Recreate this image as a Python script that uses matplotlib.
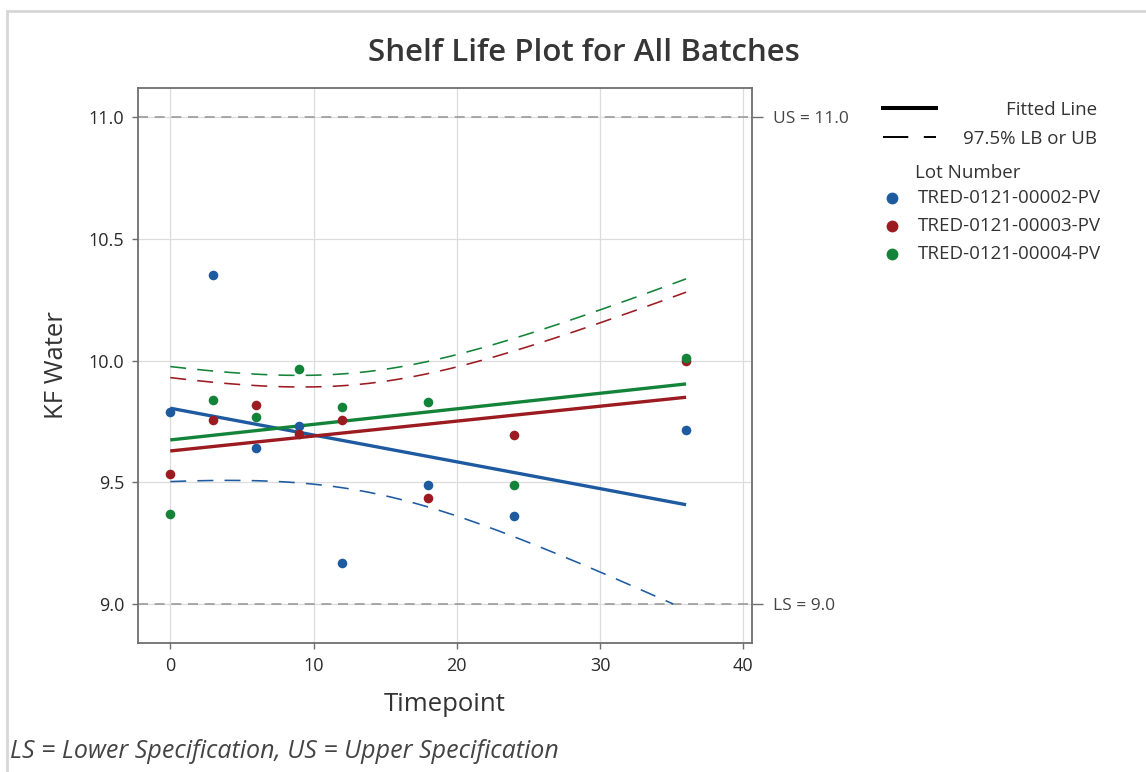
import numpy as np
import matplotlib
matplotlib.use("Agg")
import matplotlib.pyplot as plt
from matplotlib.lines import Line2D
from matplotlib.patches import Rectangle

# ---------------- data ----------------
timepoints = [0, 3, 6, 9, 12, 18, 24, 36]
lots = ["TRED-0121-00002-PV", "TRED-0121-00003-PV", "TRED-0121-00004-PV"]
kf_lot2 = [9.79, 10.351, 9.643, 9.73, 9.167, 9.488, 9.362, 9.716]
kf_lot3 = [9.535, 9.757, 9.816, 9.697, 9.758, 9.437, 9.693, 10.00]
kf_lot4 = [9.372, 9.839, 9.768, 9.966, 9.809, 9.832, 9.488, 10.01]
bound_side = ["lower", "upper", "upper"]
lower_spec = 9.0
upper_spec = 11.0
t_crit = 2.1009  # t(0.975, df=18)

colors = ["#1d5aa0", "#9b1b20", "#138339"]
series = [kf_lot2, kf_lot3, kf_lot4]

plt.rcParams['font.family'] = ['Open Sans', 'DejaVu Sans']

fig = plt.figure(figsize=(11.46, 7.72), dpi=100)
W, H = 1146, 772

def fx(px):
    return px / W

def fy(py):
    return 1 - py / H

# outer light frame
fig.add_artist(Rectangle((7 / W, -0.01), 1.2, 1 - 11 / H + 0.01, transform=fig.transFigure,
                         fill=False, edgecolor="#d6d6d6", linewidth=2.0))

ax = fig.add_axes([138 / W, 1 - 643 / H, (752 - 138) / W, (643 - 88) / H])
ax.set_xlim(-2.25, 40.6)
ax.set_ylim(8.84, 11.12)

# grid
ax.set_xticks([0, 10, 20, 30, 40])
ax.set_yticks([9.0, 9.5, 10.0, 10.5, 11.0])
ax.set_yticklabels(["9.0", "9.5", "10.0", "10.5", "11.0"])
ax.grid(True, color="#dcdcdc", linewidth=0.9)
ax.set_axisbelow(True)

for s in ax.spines.values():
    s.set_color("#6e6e6e")
    s.set_linewidth(1.3)
ax.tick_params(axis="both", direction="out", length=4, width=1.0, color="#6e6e6e",
               labelsize=13, labelcolor="#2b2b2b", pad=6)

# spec lines
for v in (lower_spec, upper_spec):
    ax.axhline(v, color="#9a9a9a", linewidth=1.2, linestyle=(0, (6, 4)), zorder=1)

# regression per lot with pooled error
x = np.array(timepoints, dtype=float)
n = len(x)
xbar = x.mean()
sxx = ((x - xbar) ** 2).sum()
fits = []
sse = 0.0
for y in series:
    y = np.array(y)
    b1 = ((x - xbar) * (y - y.mean())).sum() / sxx
    b0 = y.mean() - b1 * xbar
    fits.append((b0, b1))
    sse += ((y - (b0 + b1 * x)) ** 2).sum()
df = n * len(series) - 2 * len(series)
s = np.sqrt(sse / df)

xg = np.linspace(0, 36, 1441)
for (b0, b1), y, c, side in zip(fits, series, colors, bound_side):
    fit = b0 + b1 * xg
    half = t_crit * s * np.sqrt(1 / n + (xg - xbar) ** 2 / sxx)
    if side == "lower":
        bnd = fit - half
        bnd = np.where(bnd >= lower_spec, bnd, np.nan)
    else:
        bnd = fit + half
        bnd = np.where(bnd <= upper_spec, bnd, np.nan)
    ax.plot(xg, bnd, color=c, linewidth=1.15, linestyle=(0, (10, 7)), zorder=3)
    ax.plot(xg, fit, color=c, linewidth=2.4, zorder=4, solid_capstyle="butt")

for y, c in zip(series, colors):
    ax.scatter(timepoints, y, s=48, color=c, zorder=5, linewidths=0)

ax.set_xlabel("Timepoint", fontsize=18.5, color="#333333", labelpad=12)
ax.set_ylabel("KF Water", fontsize=18.5, color="#333333", labelpad=14)

# right spec labels
ax2 = ax.twinx()
ax2.set_ylim(ax.get_ylim())
ax2.set_yticks([lower_spec, upper_spec])
ax2.set_yticklabels([f"LS = {lower_spec:.1f}", f"US = {upper_spec:.1f}"])
ax2.tick_params(axis="y", direction="out", length=8, width=1.0, color="#6e6e6e",
                labelsize=12.5, labelcolor="#444444", pad=7)
for sp in ax2.spines.values():
    sp.set_visible(False)

fig.text(fx(584), fy(53), "Shelf Life Plot for All Batches", ha="center", va="center",
         fontsize=22.5, color="#363636", fontweight="semibold")

# legend (manual)
fig.add_artist(Line2D([fx(883), fx(936)], [fy(108), fy(108)], color="black", linewidth=2.9,
                      transform=fig.transFigure))
fig.add_artist(Line2D([fx(883), fx(936)], [fy(137), fy(137)], color="black", linewidth=1.4,
                      linestyle=(0, (13, 8)), transform=fig.transFigure))
fig.text(fx(1097), fy(110), "Fitted Line", ha="right", va="center", fontsize=13.5, color="#333333")
fig.text(fx(1097), fy(139), "97.5% LB or UB", ha="right", va="center", fontsize=13.5, color="#333333")
fig.text(fx(915), fy(173), "Lot Number", ha="left", va="center", fontsize=13.5, color="#333333")
for i, (lab, c) in enumerate(zip(lots, colors)):
    yy = fy(198 + i * 28)
    fig.add_artist(Line2D([fx(892)], [yy], marker="o", markersize=8.5, color=c, linestyle="none",
                          markeredgewidth=0, transform=fig.transFigure))
    fig.text(fx(918), yy, lab, ha="left", va="center", fontsize=13.5, color="#333333")

fig.text(fx(10), fy(752), "LS = Lower Specification, US = Upper Specification",
         ha="left", va="center", fontsize=18, style="italic", color="#444444")

fig.savefig("out.png", dpi=100)
